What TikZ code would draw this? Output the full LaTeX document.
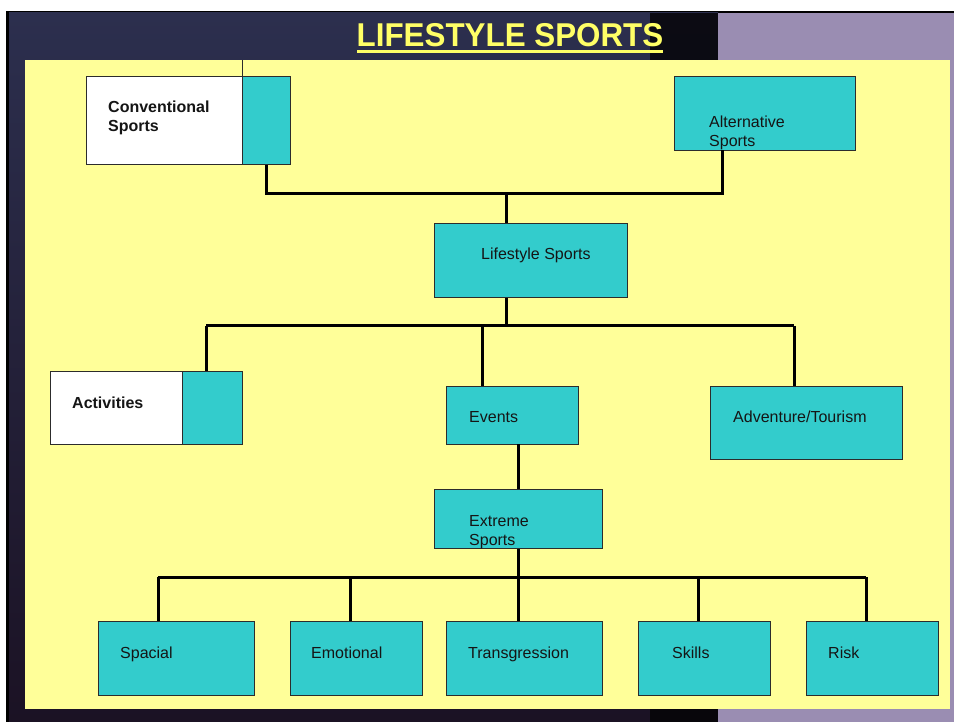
\documentclass[tikz,border=0pt]{standalone}
\usepackage{fontspec}
\setmainfont{Liberation Sans}
\usetikzlibrary{calc}
\definecolor{teal1}{HTML}{33CCCC}
\definecolor{paper}{HTML}{FFFF99}
\definecolor{titley}{HTML}{FFFF66}
\definecolor{navy}{HTML}{2C2F4E}
\definecolor{navyd}{HTML}{1B1224}
\definecolor{lilac}{HTML}{9A8DB2}
\definecolor{ink}{HTML}{151515}
\tikzset{
  box/.style={draw=ink!90, line width=0.9pt, fill=teal1, inner sep=0pt, anchor=north west},
  wbox/.style={draw=ink!90, line width=0.9pt, fill=white, inner sep=0pt, anchor=north west},
  lbl/.style={anchor=base west, inner sep=0pt, text=ink, font=\fontsize{16}{19}\selectfont, yshift=-1pt},
  blbl/.style={lbl, font=\fontsize{16}{19}\selectfont\bfseries},
  conn/.style={draw=black, line width=3pt},
}
\begin{document}
\begin{tikzpicture}[x=1pt,y=-1pt]
\useasboundingbox (0,0) rectangle (954,722);
% background
\fill[white] (0,0) rectangle (954,722);
\fill[black] (6,11) rectangle (954,722);
\shade[top color=navy, bottom color=navyd] (9,13) rectangle (718,722);
\fill[black!85!navyd, opacity=0.8] (650,13) rectangle (718,722);
\fill[lilac] (718,13) rectangle (954,722);
\fill[paper] (25,60) rectangle (950,709);
% title
\node[anchor=base, inner sep=0pt, text=titley, font=\fontsize{33}{33}\selectfont\bfseries, xscale=0.95] (title) at (510,47) {LIFESTYLE SPORTS};
\fill[titley] (title.base west |- 0,50) rectangle (title.base east |- 0,53);
% boxes
\node[wbox, minimum width=156, minimum height=88] (convw) at (86,76) {};
\node[box, minimum width=48, minimum height=88] (convt) at (242,76) {};
\draw[ink!90, line width=0.9pt] (convt.north west) -- (convt.north west |- 0,60);
\node[box, minimum width=181, minimum height=74] (alt) at (674,76) {};
\node[box, minimum width=193, minimum height=74] (ls) at (434,223) {};
\node[wbox, minimum width=132, minimum height=73] (actw) at (50,371) {};
\node[box, minimum width=60, minimum height=73] (actt) at (182,371) {};
\node[box, minimum width=132, minimum height=58] (ev) at (446,386) {};
\node[box, minimum width=192, minimum height=73] (adv) at (710,386) {};
\node[box, minimum width=168, minimum height=59] (ext) at (434,489) {};
\node[box, minimum width=156, minimum height=74] (spa) at (98,621) {};
\node[box, minimum width=132, minimum height=74] (emo) at (290,621) {};
\node[box, minimum width=156, minimum height=74] (tra) at (446,621) {};
\node[box, minimum width=132, minimum height=74] (ski) at (638,621) {};
\node[box, minimum width=132, minimum height=74] (ris) at (806,621) {};
% labels
\node[blbl] (lconv1) at (108,112) {Conventional};
\node[blbl] (lconv2) at (108,131) {Sports};
\node[lbl] (lalt1) at (709,127) {Alternative};
\node[lbl] (lalt2) at (709,145.5) {Sports};
\node[lbl] (lls) at (481,259) {Lifestyle Sports};
\node[blbl] (lact) at (72,407) {Activities};
\node[lbl] (lev) at (469,421) {Events};
\node[lbl] (ladv) at (733,421) {Adventure/Tourism};
\node[lbl] (lext1) at (469,525) {Extreme};
\node[lbl] (lext2) at (469,544) {Sports};
\node[lbl] (lspa) at (120,657) {Spacial};
\node[lbl] (lemo) at (311,657) {Emotional};
\node[lbl] (ltra) at (468,657) {Transgression};
\node[lbl] (lski) at (672,657) {Skills};
\node[lbl] (lris) at (828,657) {Risk};
% connectors
\coordinate (j1) at (506,194);
\coordinate (altc) at (722,150);
\draw[conn] (convt.south) |- (j1) -| (altc);
\draw[conn] (j1) -- (j1 |- ls.north);
\coordinate (j2) at (506,326);
\draw[conn] (j2 |- ls.south) -- (j2);
\coordinate (a1) at (206,326);
\coordinate (a2) at (482,326);
\coordinate (a3) at (794,326);
\draw[conn] (a1) -- (a3);
\draw[conn] (a1) -- (a1 |- actt.north);
\draw[conn] (a2) -- (a2 |- ev.north);
\draw[conn] (a3) -- (a3 |- adv.north);
\coordinate (e1) at (518,444);
\draw[conn] (e1) -- (e1 |- ext.north);
\coordinate (j3) at (518,577);
\draw[conn] (j3 |- ext.south) -- (j3);
\coordinate (b1) at (158,577);
\coordinate (b2) at (350,577);
\coordinate (b3) at (518,577);
\coordinate (b4) at (698,577);
\coordinate (b5) at (866,577);
\draw[conn] (b1) -- (b5);
\foreach \b/\n in {b1/spa,b2/emo,b3/tra,b4/ski,b5/ris}
  \draw[conn] (\b) -- (\b |- \n.north);
\end{tikzpicture}
\end{document}
